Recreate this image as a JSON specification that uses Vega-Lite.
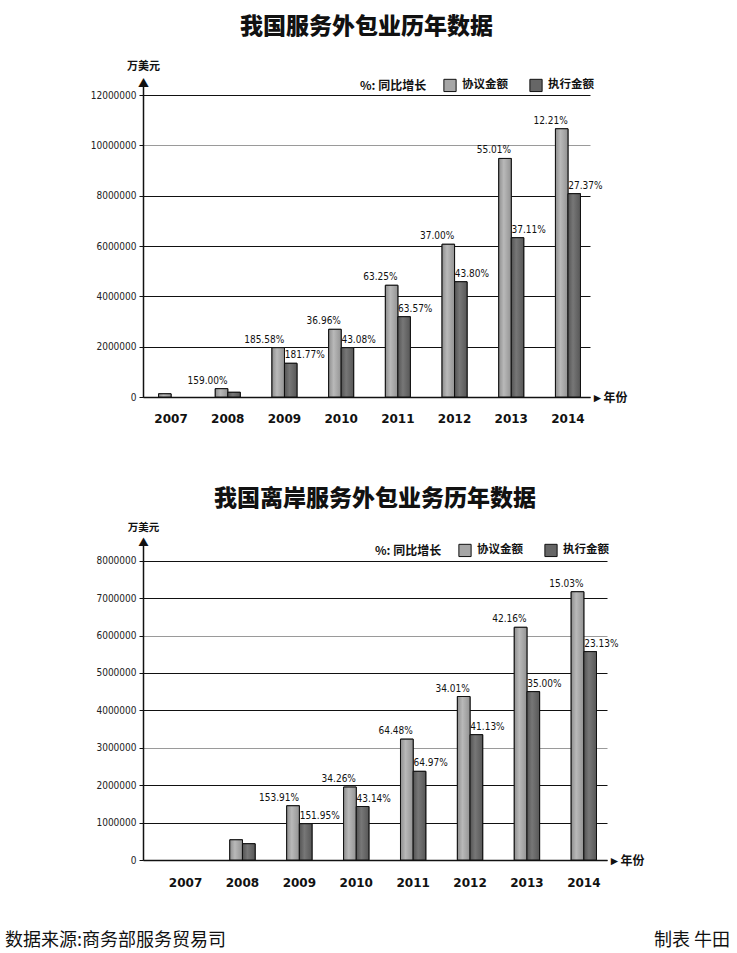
{
  "$schema": "https://vega.github.io/schema/vega-lite/v6.json",
  "background": "white",
  "padding": {"left": 5, "top": 16, "right": 2, "bottom": 2},
  "datasets": {
    "total": [
      {"year": "2007", "series": "协议金额", "value": 127000, "pct": ""},
      {"year": "2008", "series": "协议金额", "value": 330000, "pct": "159.00%"},
      {"year": "2008", "series": "执行金额", "value": 187000, "pct": ""},
      {"year": "2009", "series": "协议金额", "value": 1960000, "pct": "185.58%"},
      {"year": "2009", "series": "执行金额", "value": 1340000, "pct": "181.77%"},
      {"year": "2010", "series": "协议金额", "value": 2690000, "pct": "36.96%"},
      {"year": "2010", "series": "执行金额", "value": 1960000, "pct": "43.08%"},
      {"year": "2011", "series": "协议金额", "value": 4440000, "pct": "63.25%"},
      {"year": "2011", "series": "执行金额", "value": 3190000, "pct": "63.57%"},
      {"year": "2012", "series": "协议金额", "value": 6070000, "pct": "37.00%"},
      {"year": "2012", "series": "执行金额", "value": 4580000, "pct": "43.80%"},
      {"year": "2013", "series": "协议金额", "value": 9480000, "pct": "55.01%"},
      {"year": "2013", "series": "执行金额", "value": 6330000, "pct": "37.11%"},
      {"year": "2014", "series": "协议金额", "value": 10660000, "pct": "12.21%"},
      {"year": "2014", "series": "执行金额", "value": 8080000, "pct": "27.37%"}
    ],
    "offshore": [
      {"year": "2008", "series": "协议金额", "value": 540000, "pct": ""},
      {"year": "2008", "series": "执行金额", "value": 435000, "pct": ""},
      {"year": "2009", "series": "协议金额", "value": 1450000, "pct": "153.91%"},
      {"year": "2009", "series": "执行金额", "value": 970000, "pct": "151.95%"},
      {"year": "2010", "series": "协议金额", "value": 1950000, "pct": "34.26%"},
      {"year": "2010", "series": "执行金额", "value": 1430000, "pct": "43.14%"},
      {"year": "2011", "series": "协议金额", "value": 3230000, "pct": "64.48%"},
      {"year": "2011", "series": "执行金额", "value": 2370000, "pct": "64.97%"},
      {"year": "2012", "series": "协议金额", "value": 4370000, "pct": "34.01%"},
      {"year": "2012", "series": "执行金额", "value": 3350000, "pct": "41.13%"},
      {"year": "2013", "series": "协议金额", "value": 6220000, "pct": "42.16%"},
      {"year": "2013", "series": "执行金额", "value": 4500000, "pct": "35.00%"},
      {"year": "2014", "series": "协议金额", "value": 7170000, "pct": "15.03%"},
      {"year": "2014", "series": "执行金额", "value": 5570000, "pct": "23.13%"}
    ]
  },
  "config": {
    "view": {"stroke": null},
    "font": "DejaVu Sans",
    "title": {"font": "Noto Sans CJK SC", "fontSize": 23, "fontWeight": 900, "color": "#111", "anchor": "middle"},
    "axisY": {
      "grid": true, "gridWidth": 1,
      "domainColor": "#111", "domainWidth": 1.5,
      "tickColor": "#111", "tickSize": 4, "labelPadding": 3,
      "labelFont": "Liberation Sans Narrow, DejaVu Sans Condensed, sans-serif", "labelFontSize": 10, "labelColor": "#222",
      "titleFont": "Noto Sans CJK SC", "titleFontSize": 11, "titleFontWeight": "bold", "titleColor": "#111",
      "titleAngle": 0, "titleX": 0, "titleAlign": "center", "titleBaseline": "alphabetic"
    },
    "axisX": {
      "grid": false, "ticks": false, "labelAngle": 0,
      "domainColor": "#111", "domainWidth": 1.5,
      "labelFont": "DejaVu Sans", "labelFontWeight": "bold", "labelFontSize": 12, "labelColor": "#111",
      "titleFont": "Noto Sans CJK SC", "titleFontSize": 12, "titleFontWeight": "bold", "titleColor": "#111",
      "titleAngle": 0, "titleY": 0, "titleAlign": "left", "titleBaseline": "middle"
    },
    "legend": {
      "orient": "none", "direction": "horizontal", "titleOrient": "left",
      "symbolType": "square", "symbolSize": 150, "symbolStrokeColor": "#111", "symbolStrokeWidth": 1,
      "labelFont": "Noto Sans CJK SC", "labelFontSize": 11.5, "labelFontWeight": "bold", "labelColor": "#111", "labelOffset": 5,
      "titleFont": "Noto Sans CJK SC", "titleFontSize": 12, "titleFontWeight": "bold", "titleColor": "#111",
      "titlePadding": 16, "columnPadding": 19
    }
  },
  "resolve": {
    "scale": {"x": "independent", "y": "independent", "color": "independent", "xOffset": "independent"},
    "legend": {"color": "independent"}
  },
  "spacing": 44,
  "vconcat": [
    {
      "title": {"text": "我国服务外包业历年数据", "offset": 21},
      "width": 447,
      "height": 311,
      "data": {"name": "total"},
      "encoding": {
        "x": {
          "field": "year", "type": "ordinal",
          "scale": {"domain": ["2007", "2008", "2009", "2010", "2011", "2012", "2013", "2014"], "paddingInner": 0.559, "paddingOuter": 0.2215, "align": 0.62},
          "axis": {"title": "►年份", "titleX": 448, "labelPadding": 16}
        },
        "xOffset": {"field": "series", "scale": {"domain": ["协议金额", "执行金额"], "paddingInner": 0, "paddingOuter": 0}},
        "y": {
          "field": "value", "type": "quantitative",
          "scale": {"domain": [0, 12360000], "nice": false},
          "axis": {
            "values": [0, 2000000, 4000000, 6000000, 8000000, 10000000, 12000000], "format": "d",
            "title": ["万美元", "▲"], "titleY": -17, "titleLineHeight": 17,
            "gridColor": {"condition": {"test": "datum.value === 10000000", "value": "#9a9a9a"}, "value": "#111"}
          }
        }
      },
      "layer": [
        {
          "mark": {"type": "bar", "stroke": "#111", "strokeWidth": 1},
          "encoding": {
            "color": {
              "field": "series", "type": "nominal",
              "scale": {"domain": ["协议金额", "执行金额"], "range": ["#a6a6a6", "#666666"]},
              "legend": {"title": "%: 同比增长", "legendX": 217, "legendY": -8}
            }
          }
        },
        {
          "transform": [{"filter": "datum.series === '协议金额'"}],
          "mark": {"type": "bar", "stroke": "#111", "strokeWidth": 1, "color": {"gradient": "linear", "x1": 0, "y1": 0, "x2": 1, "y2": 0, "stops": [{"offset": 0, "color": "#8e8e8e"}, {"offset": 0.4, "color": "#b9b9b9"}, {"offset": 1, "color": "#939393"}]}}
        },
        {
          "transform": [{"filter": "datum.series === '执行金额'"}],
          "mark": {"type": "bar", "stroke": "#111", "strokeWidth": 1, "color": {"gradient": "linear", "x1": 0, "y1": 0, "x2": 1, "y2": 0, "stops": [{"offset": 0, "color": "#545454"}, {"offset": 0.4, "color": "#777777"}, {"offset": 1, "color": "#575757"}]}}
        },
        {
          "transform": [{"filter": "datum.series === '协议金额'"}],
          "mark": {"type": "text", "align": "right", "baseline": "bottom", "dx": 6, "dy": -3, "font": "Liberation Sans Narrow, DejaVu Sans Condensed, sans-serif", "fontSize": 10, "color": "#111"},
          "encoding": {"text": {"field": "pct"}}
        },
        {
          "transform": [{"filter": "datum.series === '执行金额'"}],
          "mark": {"type": "text", "align": "left", "baseline": "bottom", "dx": -6, "dy": -3, "font": "Liberation Sans Narrow, DejaVu Sans Condensed, sans-serif", "fontSize": 10, "color": "#111"},
          "encoding": {"text": {"field": "pct"}}
        }
      ]
    },
    {
      "title": {"text": ["", "我国离岸服务外包业务历年数据"], "offset": 11, "lineHeight": 20},
      "width": 464,
      "height": 315,
      "data": {"name": "offshore"},
      "encoding": {
        "x": {
          "field": "year", "type": "ordinal",
          "scale": {"domain": ["2007", "2008", "2009", "2010", "2011", "2012", "2013", "2014"], "paddingInner": 0.555, "paddingOuter": 0.355, "align": 0.74},
          "axis": {"title": "►年份", "titleX": 465, "labelPadding": 17}
        },
        "xOffset": {"field": "series", "scale": {"domain": ["协议金额", "执行金额"], "paddingInner": 0, "paddingOuter": 0}},
        "y": {
          "field": "value", "type": "quantitative",
          "scale": {"domain": [0, 8420000], "nice": false},
          "axis": {
            "values": [0, 1000000, 2000000, 3000000, 4000000, 5000000, 6000000, 7000000, 8000000], "format": "d",
            "title": ["万美元", "▲"], "titleY": -15, "titleLineHeight": 15, "titleFontSize": 10.5,
            "gridColor": {"condition": {"test": "datum.value === 6000000 || datum.value === 3000000", "value": "#9a9a9a"}, "value": "#111"}
          }
        }
      },
      "layer": [
        {
          "mark": {"type": "bar", "stroke": "#111", "strokeWidth": 1},
          "encoding": {
            "color": {
              "field": "series", "type": "nominal",
              "scale": {"domain": ["协议金额", "执行金额"], "range": ["#a6a6a6", "#666666"]},
              "legend": {"title": "%: 同比增长", "legendX": 232, "legendY": -2}
            }
          }
        },
        {
          "transform": [{"filter": "datum.series === '协议金额'"}],
          "mark": {"type": "bar", "stroke": "#111", "strokeWidth": 1, "color": {"gradient": "linear", "x1": 0, "y1": 0, "x2": 1, "y2": 0, "stops": [{"offset": 0, "color": "#8e8e8e"}, {"offset": 0.4, "color": "#b9b9b9"}, {"offset": 1, "color": "#939393"}]}}
        },
        {
          "transform": [{"filter": "datum.series === '执行金额'"}],
          "mark": {"type": "bar", "stroke": "#111", "strokeWidth": 1, "color": {"gradient": "linear", "x1": 0, "y1": 0, "x2": 1, "y2": 0, "stops": [{"offset": 0, "color": "#545454"}, {"offset": 0.4, "color": "#777777"}, {"offset": 1, "color": "#575757"}]}}
        },
        {
          "transform": [{"filter": "datum.series === '协议金额'"}],
          "mark": {"type": "text", "align": "right", "baseline": "bottom", "dx": 6, "dy": -3, "font": "Liberation Sans Narrow, DejaVu Sans Condensed, sans-serif", "fontSize": 10, "color": "#111"},
          "encoding": {"text": {"field": "pct"}}
        },
        {
          "transform": [{"filter": "datum.series === '执行金额'"}],
          "mark": {"type": "text", "align": "left", "baseline": "bottom", "dx": -6, "dy": -3, "font": "Liberation Sans Narrow, DejaVu Sans Condensed, sans-serif", "fontSize": 10, "color": "#111"},
          "encoding": {"text": {"field": "pct"}}
        }
      ]
    },
    {
      "width": 464,
      "height": 18,
      "data": {"values": [
        {"note": "数据来源:商务部服务贸易司", "side": "左"},
        {"note": "制表  牛田", "side": "右"}
      ]},
      "encoding": {
        "x": {"field": "side", "type": "nominal", "scale": {"type": "point", "domain": ["左", "右"], "range": [-138, 587], "padding": 0}, "axis": null}
      },
      "layer": [
        {
          "transform": [{"filter": "datum.side === '左'"}],
          "mark": {"type": "text", "align": "left", "baseline": "middle", "font": "Noto Sans CJK SC", "fontSize": 18, "color": "#111"},
          "encoding": {"text": {"field": "note"}}
        },
        {
          "transform": [{"filter": "datum.side === '右'"}],
          "mark": {"type": "text", "align": "right", "baseline": "middle", "font": "Noto Sans CJK SC", "fontSize": 18, "color": "#111"},
          "encoding": {"text": {"field": "note"}}
        }
      ]
    }
  ]
}
